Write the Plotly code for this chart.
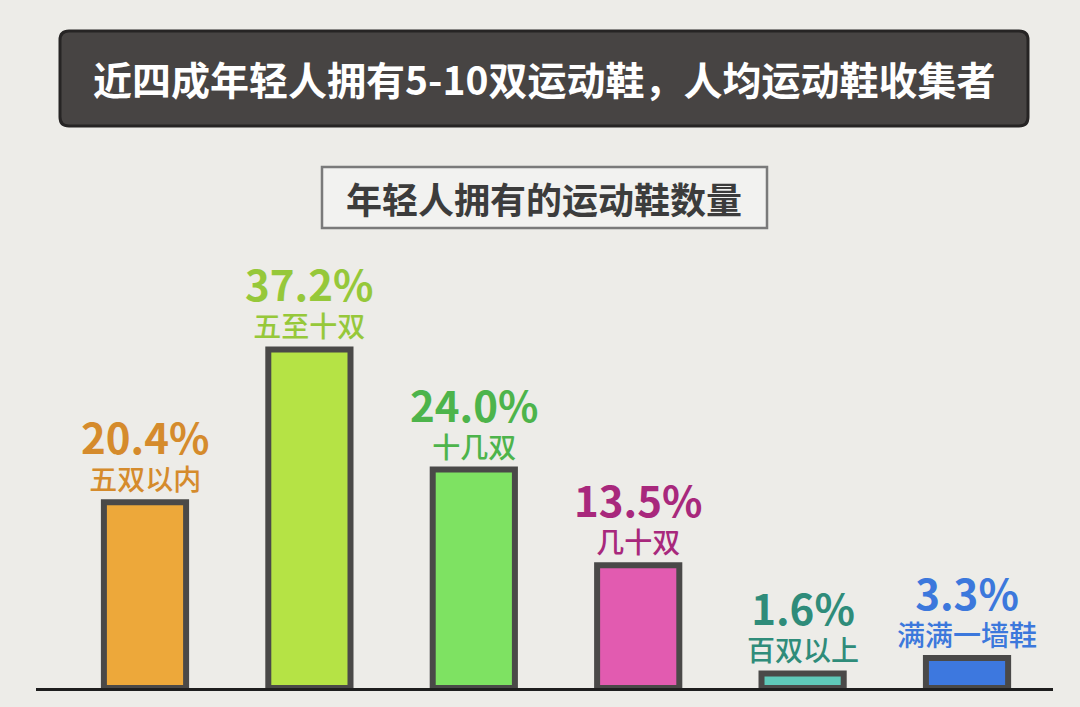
import plotly.graph_objects as go

# 数据
categories = ["五双以内", "五至十双", "十几双", "几十双", "百双以上", "满满一墙鞋"]
shares = [20.4, 37.2, 24.0, 13.5, 1.6, 3.3]
bar_colors = ["#EDA83A", "#B5E345", "#7EE262", "#E25BB0", "#5FC9B9", "#3D78DF"]
label_colors = ["#D58B2C", "#96C83A", "#4DB44B", "#A8287C", "#2F8C7A", "#3C78DC"]

title_text = "近四成年轻人拥有5-10双运动鞋，人均运动鞋收集者"
subtitle_text = "年轻人拥有的运动鞋数量"

FONT = "Noto Sans CJK SC, Noto Sans, sans-serif"
BG = "#EDECE8"

# 画布与绘图区（像素）
W, H = 1080, 707
ML, MR, MT, MB = 36, 27, 250, 19
PW = W - ML - MR
PH = H - MT - MB


def px(x):
    return (x - ML) / PW


def py(y):
    return (H - MB - y) / PH


def rounded_rect(x0, y0, x1, y1, r):
    # 纸面坐标下的圆角矩形路径
    a, b, c, d = px(x0), py(y0), px(x1), py(y1)
    rx, ry = r / PW, r / PH
    return (f"M {a+rx},{b} L {c-rx},{b} Q {c},{b} {c},{b-ry} "
            f"L {c},{d+ry} Q {c},{d} {c-rx},{d} L {a+rx},{d} "
            f"Q {a},{d} {a},{d+ry} L {a},{b-ry} Q {a},{b} {a+rx},{b} Z")


fig = go.Figure()
fig.add_trace(go.Bar(
    x=categories,
    y=shares,
    width=0.5,
    marker=dict(color=bar_colors, line=dict(color="#4A4948", width=6)),
    hoverinfo="skip",
))

annotations = []
for cat, v, col in zip(categories, shares, label_colors):
    # 百分比 + 类别名，两行放在同一个标注里
    annotations.append(dict(
        x=cat, y=v, xref="x", yref="y", yanchor="bottom", yshift=2,
        text=f"<span style='font-size:42px'><b>{v:.1f}%</b></span><br>{cat}",
        showarrow=False,
        font=dict(family=FONT, size=28, color=col, weight=500),
    ))

# 标题与副标题
annotations.append(dict(
    x=px(544), y=py(78), xref="paper", yref="paper",
    xanchor="center", yanchor="middle", text=title_text, showarrow=False,
    font=dict(family=FONT, size=39, color="#FFFFFF", weight="bold"),
))
annotations.append(dict(
    x=px(544), y=py(198), xref="paper", yref="paper",
    xanchor="center", yanchor="middle", text=subtitle_text, showarrow=False,
    font=dict(family=FONT, size=36, color="#3C3C3C", weight="bold"),
))

shapes = [
    dict(type="path", xref="paper", yref="paper",
         path=rounded_rect(60, 31, 1028, 126, 9),
         fillcolor="#474443", line=dict(color="#262424", width=3), layer="below"),
    dict(type="rect", xref="paper", yref="paper",
         x0=px(322), y0=py(228), x1=px(767), y1=py(167),
         fillcolor="#F2F2F0", line=dict(color="#7A7A7A", width=2.5), layer="below"),
]

fig.update_layout(
    width=W, height=H,
    margin=dict(l=ML, r=MR, t=MT, b=MB, pad=0),
    paper_bgcolor=BG, plot_bgcolor=BG,
    showlegend=False,
    annotations=annotations,
    shapes=shapes,
    xaxis=dict(range=[-0.663, 5.523], showticklabels=False, ticks="",
               showgrid=False, zeroline=False, showline=True,
               linecolor="#1E1E1E", linewidth=2.5, fixedrange=True),
    yaxis=dict(range=[0, PH / 9.1], visible=False, showgrid=False,
               zeroline=False, fixedrange=True),
)

fig.write_html("out.html", config={"displayModeBar": False},
               post_script="document.body.style.margin='0';")
